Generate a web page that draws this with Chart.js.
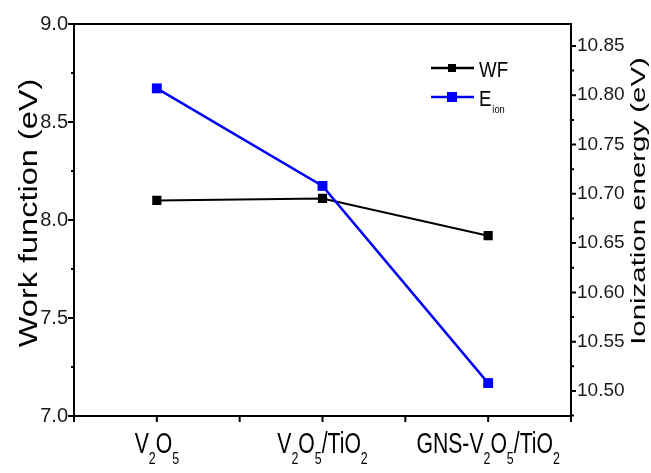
<!DOCTYPE html>
<html>
<head>
<meta charset="utf-8">
<script src="https://cdn.jsdelivr.net/npm/chart.js@4/dist/chart.umd.min.js"></script>
<style>
html,body{margin:0;padding:0;background:#fff;}
#wrap{width:651px;height:473px;position:relative;}
canvas{display:block;}
</style>
</head>
<body>
<div id="wrap"><canvas id="c" width="651" height="473"></canvas></div>
<script>
// ---- data ----
const categories = ['V2O5', 'V2O5/TiO2', 'GNS-V2O5/TiO2'];
const workFunction = [8.10, 8.11, 7.92];
const ionizationEnergy = [10.807, 10.708, 10.508];
const leftTicks = [7.0, 7.5, 8.0, 8.5, 9.0];
const rightTicks = [10.50, 10.55, 10.60, 10.65, 10.70, 10.75, 10.80, 10.85];
const seriesNames = ['WF', 'Eion'];
const leftTitle = 'Work function (eV)';
const rightTitle = 'Ionization energy (eV)';

const FONT = "'Liberation Sans', Arial, sans-serif";

function drawRich(ctx, text, cx, baseY, size, subSize, sx, subDy) {
  const segs = [];
  for (const ch of text) {
    const sub = /[0-9]/.test(ch);
    if (segs.length && segs[segs.length - 1].sub === sub) segs[segs.length - 1].t += ch;
    else segs.push({ t: ch, sub });
  }
  ctx.save();
  ctx.translate(cx, baseY);
  ctx.scale(sx, 1);
  let total = 0;
  segs.forEach(s => {
    ctx.font = (s.sub ? subSize : size) + 'px ' + FONT;
    s.w = ctx.measureText(s.t).width;
    total += s.w;
  });
  let x = -total / 2;
  ctx.textAlign = 'left';
  ctx.textBaseline = 'alphabetic';
  ctx.fillStyle = '#000';
  segs.forEach(s => {
    ctx.font = (s.sub ? subSize : size) + 'px ' + FONT;
    ctx.fillText(s.t, x, s.sub ? subDy : 0);
    x += s.w;
  });
  ctx.restore();
}

const decor = {
  id: 'decor',
  afterDraw(chart) {
    const ctx = chart.ctx;
    const a = chart.chartArea;
    const xs = chart.scales.x, yl = chart.scales.y, yr = chart.scales.y1;
    ctx.save();
    ctx.strokeStyle = '#000';
    ctx.lineWidth = 2;
    ctx.strokeRect(a.left, a.top, a.right - a.left, a.bottom - a.top);
    ctx.beginPath();
    // left ticks
    leftTicks.forEach((v, i) => {
      const y = yl.getPixelForValue(v);
      ctx.moveTo(a.left, y); ctx.lineTo(a.left - 6, y);
      if (i < leftTicks.length - 1) {
        const ym = yl.getPixelForValue((v + leftTicks[i + 1]) / 2);
        ctx.moveTo(a.left, ym); ctx.lineTo(a.left - 3, ym);
      }
    });
    // right ticks
    const rStep = rightTicks[1] - rightTicks[0];
    rightTicks.forEach((v) => {
      const y = yr.getPixelForValue(v);
      ctx.moveTo(a.right, y); ctx.lineTo(a.right + 5, y);
    });
    [rightTicks[0] - rStep / 2].concat(rightTicks.map(v => v + rStep / 2)).forEach(v => {
      if (v < yr.min - 1e-9 || v > yr.max + 1e-9) return;
      const y = yr.getPixelForValue(v);
      ctx.moveTo(a.right, y); ctx.lineTo(a.right + 3, y);
    });
    // bottom ticks
    const n = categories.length;
    const half = (a.right - a.left) / n / 2;
    for (let i = 0; i < n; i++) {
      const x = xs.getPixelForTick(i);
      ctx.moveTo(x, a.bottom); ctx.lineTo(x, a.bottom + 6);
      ctx.moveTo(x - half, a.bottom); ctx.lineTo(x - half, a.bottom + 6);
      ctx.moveTo(x + half, a.bottom); ctx.lineTo(x + half, a.bottom + 6);
    }
    ctx.stroke();

    // category labels
    for (let i = 0; i < n; i++) {
      drawRich(ctx, categories[i], xs.getPixelForTick(i), a.bottom + 37, 29, 17, 0.73, 11);
    }

    // axis titles
    ctx.fillStyle = '#000';
    ctx.textAlign = 'center';
    ctx.textBaseline = 'alphabetic';
    ctx.save();
    ctx.translate(37, 213);
    ctx.rotate(-Math.PI / 2);
    ctx.scale(1.3, 1);
    ctx.font = '25px ' + FONT;
    ctx.fillText(leftTitle, 0, 0);
    ctx.restore();
    ctx.save();
    ctx.translate(645, 201);
    ctx.rotate(-Math.PI / 2);
    ctx.scale(1.4, 1);
    ctx.font = '21px ' + FONT;
    ctx.fillText(rightTitle, 0, 0);
    ctx.restore();

    // legend
    const ds = chart.data.datasets;
    const rows = [{ y: 68, size: 8 }, { y: 97, size: 10 }];
    ds.forEach((d, i) => {
      const r = rows[i];
      ctx.strokeStyle = d.borderColor;
      ctx.fillStyle = d.backgroundColor;
      ctx.lineWidth = 2.5;
      ctx.beginPath(); ctx.moveTo(431, r.y); ctx.lineTo(474, r.y); ctx.stroke();
      ctx.fillRect(452 - r.size / 2, r.y - r.size / 2, r.size, r.size);
    });
    ctx.fillStyle = '#000';
    ctx.textAlign = 'left';
    ctx.save();
    ctx.translate(479, 77); ctx.scale(0.85, 1);
    ctx.font = '22px ' + FONT;
    ctx.fillText(seriesNames[0], 0, 0);
    ctx.restore();
    ctx.save();
    ctx.translate(479, 106); ctx.scale(0.85, 1);
    ctx.font = '22px ' + FONT;
    ctx.fillText(seriesNames[1].charAt(0), 0, 0);
    const w = ctx.measureText(seriesNames[1].charAt(0)).width;
    ctx.font = '11px ' + FONT;
    ctx.fillText(seriesNames[1].slice(1), w + 1, 7);
    ctx.restore();
    ctx.restore();
  }
};

new Chart(document.getElementById('c'), {
  type: 'line',
  data: {
    labels: categories,
    datasets: [
      {
        label: seriesNames[0],
        data: workFunction,
        yAxisID: 'y',
        borderColor: '#000000',
        backgroundColor: '#000000',
        borderWidth: 2,
        pointStyle: 'rect',
        pointRadius: 6.5,
        pointBorderWidth: 0,
        tension: 0,
        order: 1
      },
      {
        label: seriesNames[1],
        data: ionizationEnergy,
        yAxisID: 'y1',
        borderColor: '#0000ff',
        backgroundColor: '#0000ff',
        borderWidth: 2.5,
        pointStyle: 'rect',
        pointRadius: 7,
        pointBorderWidth: 0,
        tension: 0,
        order: 0
      }
    ]
  },
  options: {
    responsive: false,
    animation: false,
    devicePixelRatio: 1,
    layout: { padding: { top: 24, left: 0, right: 0, bottom: 0 } },
    plugins: { legend: { display: false }, tooltip: { enabled: false }, title: { display: false } },
    scales: {
      x: {
        type: 'category',
        offset: true,
        grid: { display: false, drawTicks: false },
        border: { display: false },
        ticks: { display: false },
        afterFit: s => { s.height = 57; }
      },
      y: {
        position: 'left',
        min: 7.0,
        max: 9.0,
        afterBuildTicks: s => { s.ticks = leftTicks.map(v => ({ value: v })); },
        grid: { display: false, drawTicks: false },
        border: { display: false },
        ticks: {
          padding: 6,
          color: '#1a1a1a',
          font: { family: FONT, size: 20 },
          callback: v => Number(v).toFixed(1)
        },
        afterFit: s => { s.width = 74; }
      },
      y1: {
        position: 'right',
        min: 10.4746,
        max: 10.8723,
        afterBuildTicks: s => { s.ticks = rightTicks.map(v => ({ value: v })); },
        grid: { display: false, drawTicks: false },
        border: { display: false },
        ticks: {
          padding: 6,
          color: '#1a1a1a',
          font: { family: FONT, size: 19 },
          callback: v => Number(v).toFixed(2)
        },
        afterFit: s => { s.width = 80; }
      }
    }
  },
  plugins: [decor]
});
</script>
</body>
</html>
